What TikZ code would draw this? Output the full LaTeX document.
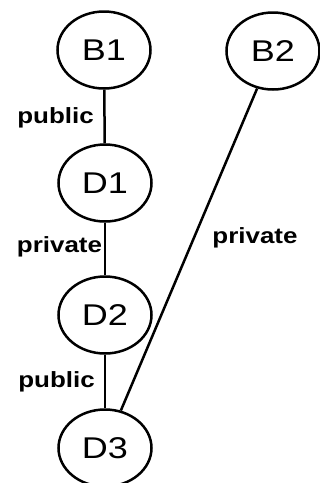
\documentclass[tikz,border=0pt]{standalone}
\usepackage{fontspec}
\usepackage{tikz}
\usetikzlibrary{shapes}
\newfontfamily\classfont[FakeStretch=1.2]{Liberation Sans}
\newfontfamily\accessfont[FakeStretch=1.18]{Liberation Sans}
\begin{document}
\begin{tikzpicture}[x=1pt,y=-1pt,line width=2.5pt,
	cls/.style={ellipse,draw,minimum width=93pt,minimum height=77pt,inner sep=0pt,font=\classfont\fontsize{30}{30}\selectfont},
	acc/.style={anchor=base,inner sep=0pt,font=\accessfont\bfseries\fontsize{22}{22}\selectfont}]
	\clip (0,0) rectangle (320,483);
	\node[cls] (B1) at (104,50) {B1};
	\node[cls] (B2) at (273,51) {B2};
	\node[cls] (D1) at (105,183) {D1};
	\node[cls] (D2) at (105,315) {D2};
	\node[cls] (D3) at (105,448) {D3};
	\draw (B1) -- (D1); \node[acc] at (55.5,123) {public};
	\draw (D1) -- (D2); \node[acc] at (59.5,252) {private};
	\draw (D2) -- (D3); \node[acc] at (56.5,387) {public};
	\draw (B2) -- (D3); \node[acc] at (255,243.5) {private};
\end{tikzpicture}
\end{document}
